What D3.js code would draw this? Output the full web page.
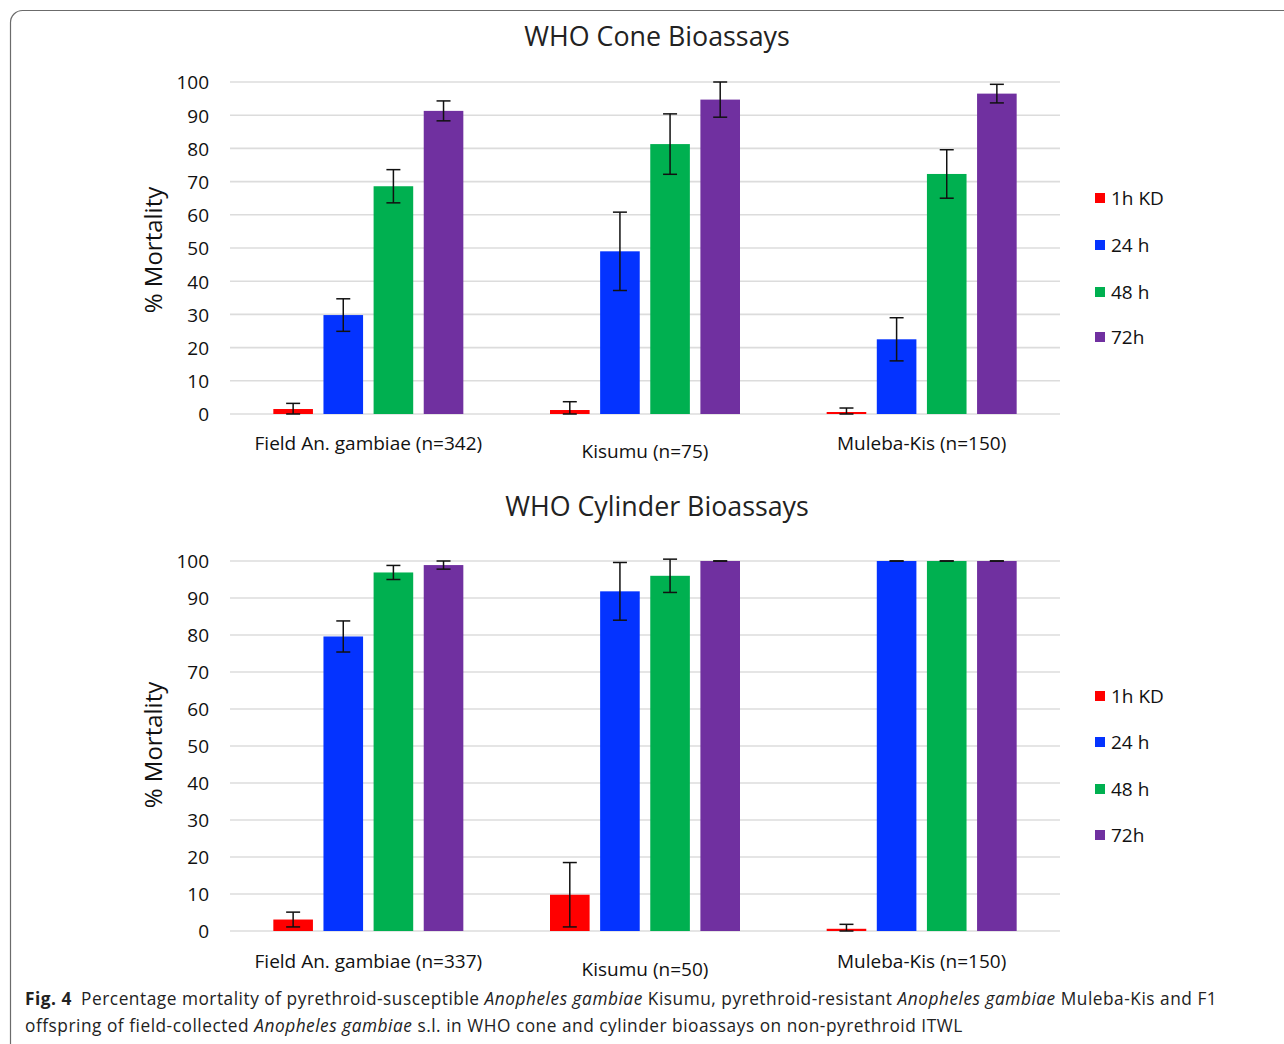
<!DOCTYPE html>
<html>
<head>
<meta charset="utf-8">
<script src="https://cdn.jsdelivr.net/npm/d3@7"></script>
<style>
  html, body { margin: 0; padding: 0; background: #fff; }
  svg { display: block; }
</style>
</head>
<body>
<svg id="chart" width="1284" height="1044"></svg>
<script>
// ---------- DATA ----------
const seriesNames = ["1h KD", "24 h", "48 h", "72h"];
const seriesColors = ["#ff0000", "#0433ff", "#00b050", "#7030a0"];
const yTicks = [0, 10, 20, 30, 40, 50, 60, 70, 80, 90, 100];

// Cone bioassays
const coneCategories = ["Field An. gambiae (n=342)", "Kisumu (n=75)", "Muleba-Kis (n=150)"];
const cone1hKD = [1.5, 1.2, 0.6];
const cone24h  = [29.8, 49.0, 22.5];
const cone48h  = [68.6, 81.3, 72.3];
const cone72h  = [91.3, 94.7, 96.5];
const cone1hKDErr = [1.7, 2.5, 1.2];
const cone24hErr  = [4.9, 11.8, 6.5];
const cone48hErr  = [5.0, 9.1, 7.3];
const cone72hErr  = [3.0, 5.3, 2.8];

// Cylinder bioassays
const cylCategories = ["Field An. gambiae (n=337)", "Kisumu (n=50)", "Muleba-Kis (n=150)"];
const cyl1hKD = [3.1, 9.8, 0.6];
const cyl24h  = [79.6, 91.8, 100];
const cyl48h  = [96.9, 96.0, 100];
const cyl72h  = [98.9, 100, 100];
const cyl1hKDErr = [2.0, 8.7, 1.2];
const cyl24hErr  = [4.2, 7.8, 0];
const cyl48hErr  = [1.9, 4.5, 0];
const cyl72hErr  = [1.1, 0, 0];

// ---------- DRAW ----------
const svg = d3.select("#chart");
const FONT = "'Open Sans', 'Noto Sans', sans-serif";

// frame
svg.append("rect")
  .attr("x", 10.5).attr("y", 10.5)
  .attr("width", 1300).attr("height", 1060)
  .attr("rx", 12).attr("ry", 12)
  .attr("fill", "none").attr("stroke", "#6b6b6b").attr("stroke-width", 1.2);

function drawPanel(opts) {
  const { title, titleY, categories, values, errors, yTop, yBottom, labelY, staggerDy, legendY, axisLabelY } = opts;
  const x = d3.scaleBand().domain(categories).range([230, 1060]).paddingInner(0).paddingOuter(0);
  const groupW = 190;
  const xi = d3.scaleBand().domain(seriesNames).range([0, groupW]).paddingInner(0.21).paddingOuter(0);
  const groupOffset = (x.bandwidth() - groupW) / 2;
  const y = d3.scaleLinear().domain([0, 100]).range([yBottom, yTop]);

  const g = svg.append("g");

  // title
  g.append("text").attr("x", 657).attr("y", titleY)
    .attr("text-anchor", "middle")
    .attr("font-family", FONT).attr("font-size", 26.8).attr("fill", "#222")
    .text(title);

  // gridlines
  g.append("g").selectAll("line").data(yTicks).join("line")
    .attr("x1", 230).attr("x2", 1060)
    .attr("y1", d => y(d)).attr("y2", d => y(d))
    .attr("stroke", "#dcdcdc").attr("stroke-width", 1.6);

  // y axis tick labels
  const yAxis = d3.axisLeft(y).tickValues(yTicks).tickSize(0).tickPadding(0);
  const ya = g.append("g").attr("transform", "translate(209,0)").call(yAxis);
  ya.select(".domain").remove();
  ya.selectAll("text").attr("font-family", FONT).attr("font-size", 19).attr("fill", "#111").attr("dy", "0.36em");

  // y axis label
  g.append("text")
    .attr("transform", `translate(162,${axisLabelY}) rotate(-90)`)
    .attr("text-anchor", "middle")
    .attr("font-family", FONT).attr("font-size", 24).attr("fill", "#111")
    .text("% Mortality");

  // bars
  const rows = [];
  categories.forEach((c, ci) => {
    seriesNames.forEach((s, si) => {
      rows.push({ cat: c, series: s, si, v: values[si][ci], e: errors[si][ci] });
    });
  });
  g.append("g").selectAll("rect").data(rows).join("rect")
    .attr("x", d => x(d.cat) + groupOffset + xi(d.series))
    .attr("width", xi.bandwidth())
    .attr("y", d => y(d.v))
    .attr("height", d => y(0) - y(d.v))
    .attr("fill", d => seriesColors[d.si]);

  // error bars
  const eb = g.append("g").attr("stroke", "#111").attr("stroke-width", 1.5);
  rows.forEach(d => {
    const cx = x(d.cat) + groupOffset + xi(d.series) + xi.bandwidth() / 2;
    const lo = Math.max(0, d.v - d.e), hi = d.v + d.e;
    eb.append("line").attr("x1", cx).attr("x2", cx).attr("y1", y(lo)).attr("y2", y(hi));
    eb.append("line").attr("x1", cx - 7).attr("x2", cx + 7).attr("y1", y(hi)).attr("y2", y(hi));
    eb.append("line").attr("x1", cx - 7).attr("x2", cx + 7).attr("y1", y(lo)).attr("y2", y(lo));
  });

  // category labels (staggered like the original)
  g.append("g").selectAll("text").data(categories).join("text")
    .attr("x", d => x(d) + x.bandwidth() / 2)
    .attr("y", (d, i) => labelY + (i === 1 ? staggerDy : 0))
    .attr("text-anchor", "middle")
    .attr("font-family", FONT).attr("font-size", 19).attr("fill", "#111")
    .text(d => d);

  // legend
  const lg = g.append("g");
  seriesNames.forEach((s, i) => {
    const ly = legendY[i];
    lg.append("rect").attr("x", 1095).attr("y", ly - 5).attr("width", 10).attr("height", 10).attr("fill", seriesColors[i]);
    lg.append("text").attr("x", 1111).attr("y", ly).attr("dy", "0.36em")
      .attr("font-family", FONT).attr("font-size", 19).attr("fill", "#111").text(s);
  });
}

drawPanel({
  title: "WHO Cone Bioassays", titleY: 46,
  categories: coneCategories,
  values: [cone1hKD, cone24h, cone48h, cone72h],
  errors: [cone1hKDErr, cone24hErr, cone48hErr, cone72hErr],
  yTop: 82, yBottom: 414,
  labelY: 450, staggerDy: 8,
  legendY: [198, 245, 292, 337],
  axisLabelY: 250
});

drawPanel({
  title: "WHO Cylinder Bioassays", titleY: 516,
  categories: cylCategories,
  values: [cyl1hKD, cyl24h, cyl48h, cyl72h],
  errors: [cyl1hKDErr, cyl24hErr, cyl48hErr, cyl72hErr],
  yTop: 561, yBottom: 931,
  labelY: 968, staggerDy: 8,
  legendY: [696, 742, 789, 835],
  axisLabelY: 745
});

// caption
const CAP = "'Open Sans', 'Noto Sans', sans-serif";
const cap1 = svg.append("text").attr("x", 25).attr("y", 1005)
  .attr("font-family", CAP).attr("font-size", 17.3).attr("letter-spacing", 0.52).attr("fill", "#222");
cap1.append("tspan").attr("font-weight", "bold").text("Fig. 4");
cap1.append("tspan").text("\u2002Percentage mortality of pyrethroid-susceptible ");
cap1.append("tspan").attr("font-style", "italic").text("Anopheles gambiae");
cap1.append("tspan").text(" Kisumu, pyrethroid-resistant ");
cap1.append("tspan").attr("font-style", "italic").text("Anopheles gambiae");
cap1.append("tspan").text(" Muleba-Kis and F1");

const cap2 = svg.append("text").attr("x", 25).attr("y", 1032)
  .attr("font-family", CAP).attr("font-size", 17.3).attr("letter-spacing", 0.52).attr("fill", "#222");
cap2.append("tspan").text("offspring of field-collected ");
cap2.append("tspan").attr("font-style", "italic").text("Anopheles gambiae");
cap2.append("tspan").text(" s.l. in WHO cone and cylinder bioassays on non-pyrethroid ITWL");
</script>
</body>
</html>
